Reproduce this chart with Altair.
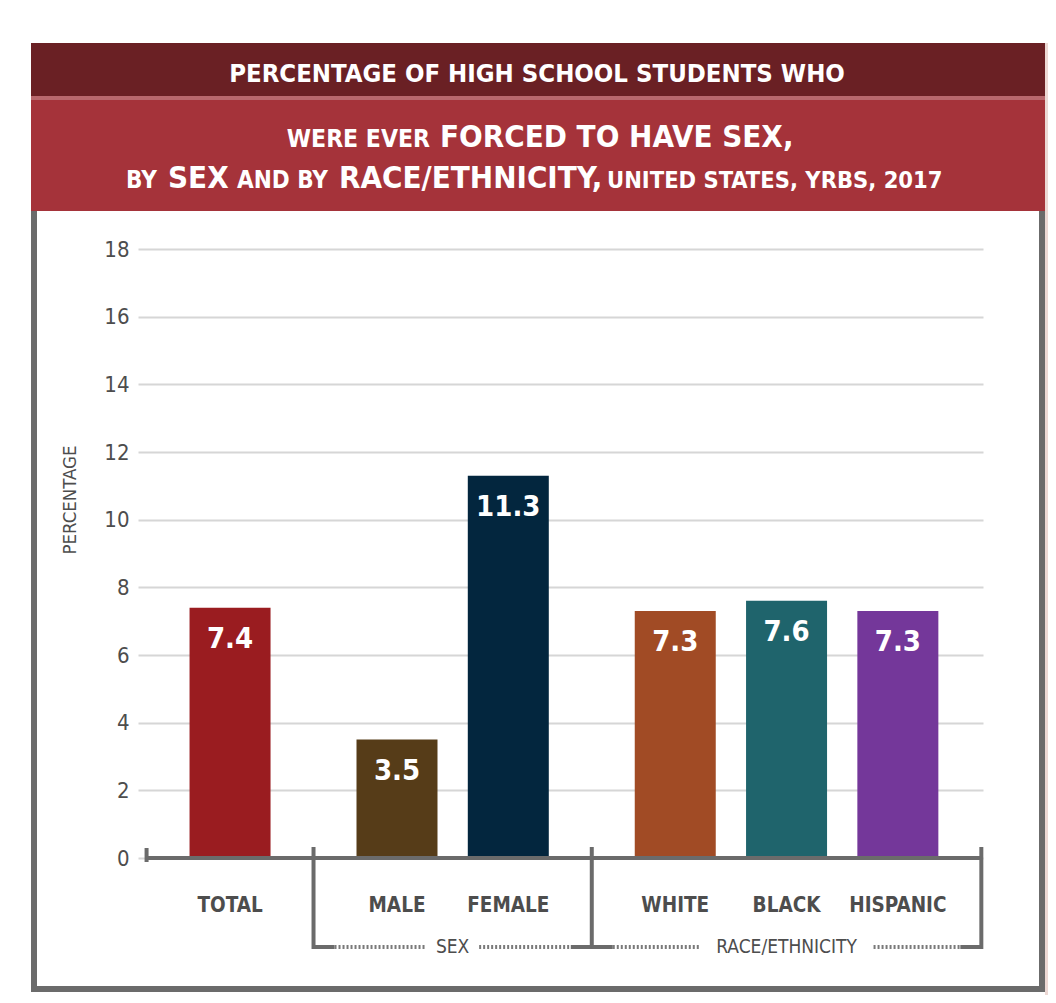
import altair as alt
import pandas as pd

# ---------------- data ----------------
categories = ["TOTAL", "MALE", "FEMALE", "WHITE", "BLACK", "HISPANIC"]
values = [7.4, 3.5, 11.3, 7.3, 7.6, 7.3]
groups = ["", "SEX", "SEX", "RACE/ETHNICITY", "RACE/ETHNICITY", "RACE/ETHNICITY"]
colors = ["#9a1c20", "#563c18", "#03263e", "#a14b25", "#1f646c", "#74379a"]
y_ticks = [0, 2, 4, 6, 8, 10, 12, 14, 16, 18]
y_title = "PERCENTAGE"
title_line1 = "PERCENTAGE OF HIGH SCHOOL STUDENTS WHO"
title_line2 = ["WERE EVER", "FORCED TO HAVE SEX,"]
title_line3 = ["BY", "SEX", "AND BY", "RACE/ETHNICITY,", "UNITED STATES, YRBS, 2017"]

FONT = "Liberation Sans Narrow, Arial Narrow, DejaVu Sans Condensed, sans-serif"
W, H = 845, 609

# slot positions: bars in a group are one slot apart, groups half a slot further apart
pos = []
p = 0.0
for i, g in enumerate(groups):
    if i > 0:
        p += 1.0 if g == groups[i - 1] else 1.5
    pos.append(p)

bars = pd.DataFrame({"category": categories, "value": values, "group": groups, "pos": pos,
                     "label": [f"{v:.1f}" for v in values]})

# group spans
spans = []
for g in dict.fromkeys(groups):
    ps = [pp for pp, gg in zip(pos, groups) if gg == g]
    spans.append({"group": g, "start": ps[0] - 0.75, "end": ps[-1] + 0.75,
                  "center": (ps[0] + ps[-1]) / 2})
spans = pd.DataFrame(spans)
labeled = spans[spans["group"] != ""]

unit = W / ((pos[-1] + 0.765) - (pos[0] - 0.827))
solid_len = 21 / unit
seg_rows_solid, seg_rows_dot = [], []
for _, r in labeled.iterrows():
    gap = (5.5 * len(r["group"]) + 10) / unit
    seg_rows_solid += [{"a": r["start"], "b": r["start"] + solid_len},
                       {"a": r["end"] - solid_len, "b": r["end"]}]
    seg_rows_dot += [{"a": r["start"] + solid_len, "b": r["center"] - gap},
                     {"a": r["center"] + gap, "b": r["end"] - solid_len}]
seg_solid = pd.DataFrame(seg_rows_solid)
seg_dot = pd.DataFrame(seg_rows_dot)

long_ticks = sorted(set(list(labeled["start"]) + list(labeled["end"])))
short_ticks = [s for s in list(spans["start"]) + list(spans["end"]) if s not in long_ticks]
long_df = pd.DataFrame({"x": long_ticks})
short_df = pd.DataFrame({"x": short_ticks})
base_df = pd.DataFrame({"a": [spans["start"].min()], "b": [spans["end"].max()], "v": [0]})

one = pd.DataFrame({"k": [0]})

xs = alt.Scale(domain=[pos[0] - 0.827, pos[-1] + 0.765], nice=False, zero=False, padding=0)
ys = alt.Scale(domain=[0, 18], nice=False, zero=True)
GRAY = "#6b6b6b"
TXT = "#4d4d4d"


def rect(x, x2, y, y2, **kw):
    return alt.Chart(one).mark_rect(**kw).encode(
        x=alt.value(x), x2=alt.value(x2), y=alt.value(y), y2=alt.value(y2))


def txt(text, x, y, size, weight="bold", align="left", color="white"):
    return alt.Chart(one).mark_text(text=text, fontSize=size, fontWeight=weight, align=align,
                                    baseline="alphabetic", color=color, font=FONT).encode(
        x=alt.value(x), y=alt.value(y))


side_strip = rect(907, 912, -206, 746, fill="#ecd8d4")
frame = rect(-104, 904, -203, 740, fill="transparent", stroke=GRAY, strokeWidth=6)
band_dark = rect(-107, 907, -206, -153, fill="#6a2024")
band_line = rect(-107, 907, -153, -149, fill="#b8686d")
band_light = rect(-107, 907, -149, -38, fill="#a5333a")

titles = [
    txt(title_line1, 399, -167, 25.5, align="center"),
    txt(title_line2[0], 292, -102, 24.5, align="right"),
    txt(title_line2[1], 302, -102, 31),
    txt(title_line3[0], -12, -61, 24),
    txt(title_line3[1], 30, -61, 31),
    txt(title_line3[2], 99, -61, 24),
    txt(title_line3[3], 201, -61, 31),
    txt(title_line3[4], 469, -61, 23.5),
]

bar_layer = alt.Chart(bars).mark_bar(size=81).encode(
    x=alt.X("pos:Q", scale=xs, axis=None),
    y=alt.Y("value:Q", scale=ys,
            axis=alt.Axis(values=y_ticks, grid=True, gridColor="#d6d6d6", gridWidth=2,
                          domain=False, ticks=False, labelFont=FONT, labelFontSize=22,
                          labelColor=TXT, labelPadding=9, title=None)),
    color=alt.Color("category:N", scale=alt.Scale(domain=categories, range=colors), legend=None),
)

value_labels = alt.Chart(bars).mark_text(baseline="alphabetic", dy=40, fontSize=29,
                                          fontWeight="bold", color="white", font=FONT).encode(
    x=alt.X("pos:Q", scale=xs), y=alt.Y("value:Q", scale=ys), text="label:N")

cat_labels = alt.Chart(bars).mark_text(baseline="middle", fontSize=20.5, fontWeight="bold",
                                        color=TXT, font=FONT).encode(
    x=alt.X("pos:Q", scale=xs), y=alt.value(657), text="category:N")

baseline = alt.Chart(base_df).mark_rule(strokeWidth=4, color=GRAY).encode(
    x=alt.X("a:Q", scale=xs), x2="b:Q", y=alt.Y("v:Q", scale=ys))

long_tick_layer = alt.Chart(long_df).mark_rule(strokeWidth=4, color=GRAY).encode(
    x=alt.X("x:Q", scale=xs), y=alt.value(598), y2=alt.value(700))
short_tick_layer = alt.Chart(short_df).mark_rule(strokeWidth=4, color=GRAY).encode(
    x=alt.X("x:Q", scale=xs), y=alt.value(599), y2=alt.value(613))

solid_layer = alt.Chart(seg_solid).mark_rule(strokeWidth=4, color=GRAY).encode(
    x=alt.X("a:Q", scale=xs), x2="b:Q", y=alt.value(698))
dot_layer = alt.Chart(seg_dot).mark_rule(strokeWidth=4, color="#7a7a7a", strokeDash=[2, 2]).encode(
    x=alt.X("a:Q", scale=xs), x2="b:Q", y=alt.value(698))

group_labels = alt.Chart(labeled).mark_text(baseline="middle", fontSize=19, color=TXT,
                                             font=FONT).encode(
    x=alt.X("center:Q", scale=xs), y=alt.value(698), text="group:N")

ytitle = alt.Chart(one).mark_text(text=y_title, angle=270, fontSize=18.5, color=TXT, font=FONT,
                                  baseline="middle", align="center").encode(
    x=alt.value(-68), y=alt.value(251))

chart = alt.layer(
    side_strip, frame, band_dark, band_line, band_light, *titles,
    bar_layer, value_labels, cat_labels, baseline, long_tick_layer, short_tick_layer,
    solid_layer, dot_layer, group_labels, ytitle,
).properties(
    width=W, height=H,
    autosize=alt.AutoSizeParams(type="none"),
    padding={"left": 130, "top": 241, "right": 65, "bottom": 137},
    background="white",
).configure_view(stroke=None)

chart.save("out.html", embed_options={"renderer": "svg", "actions": False})
